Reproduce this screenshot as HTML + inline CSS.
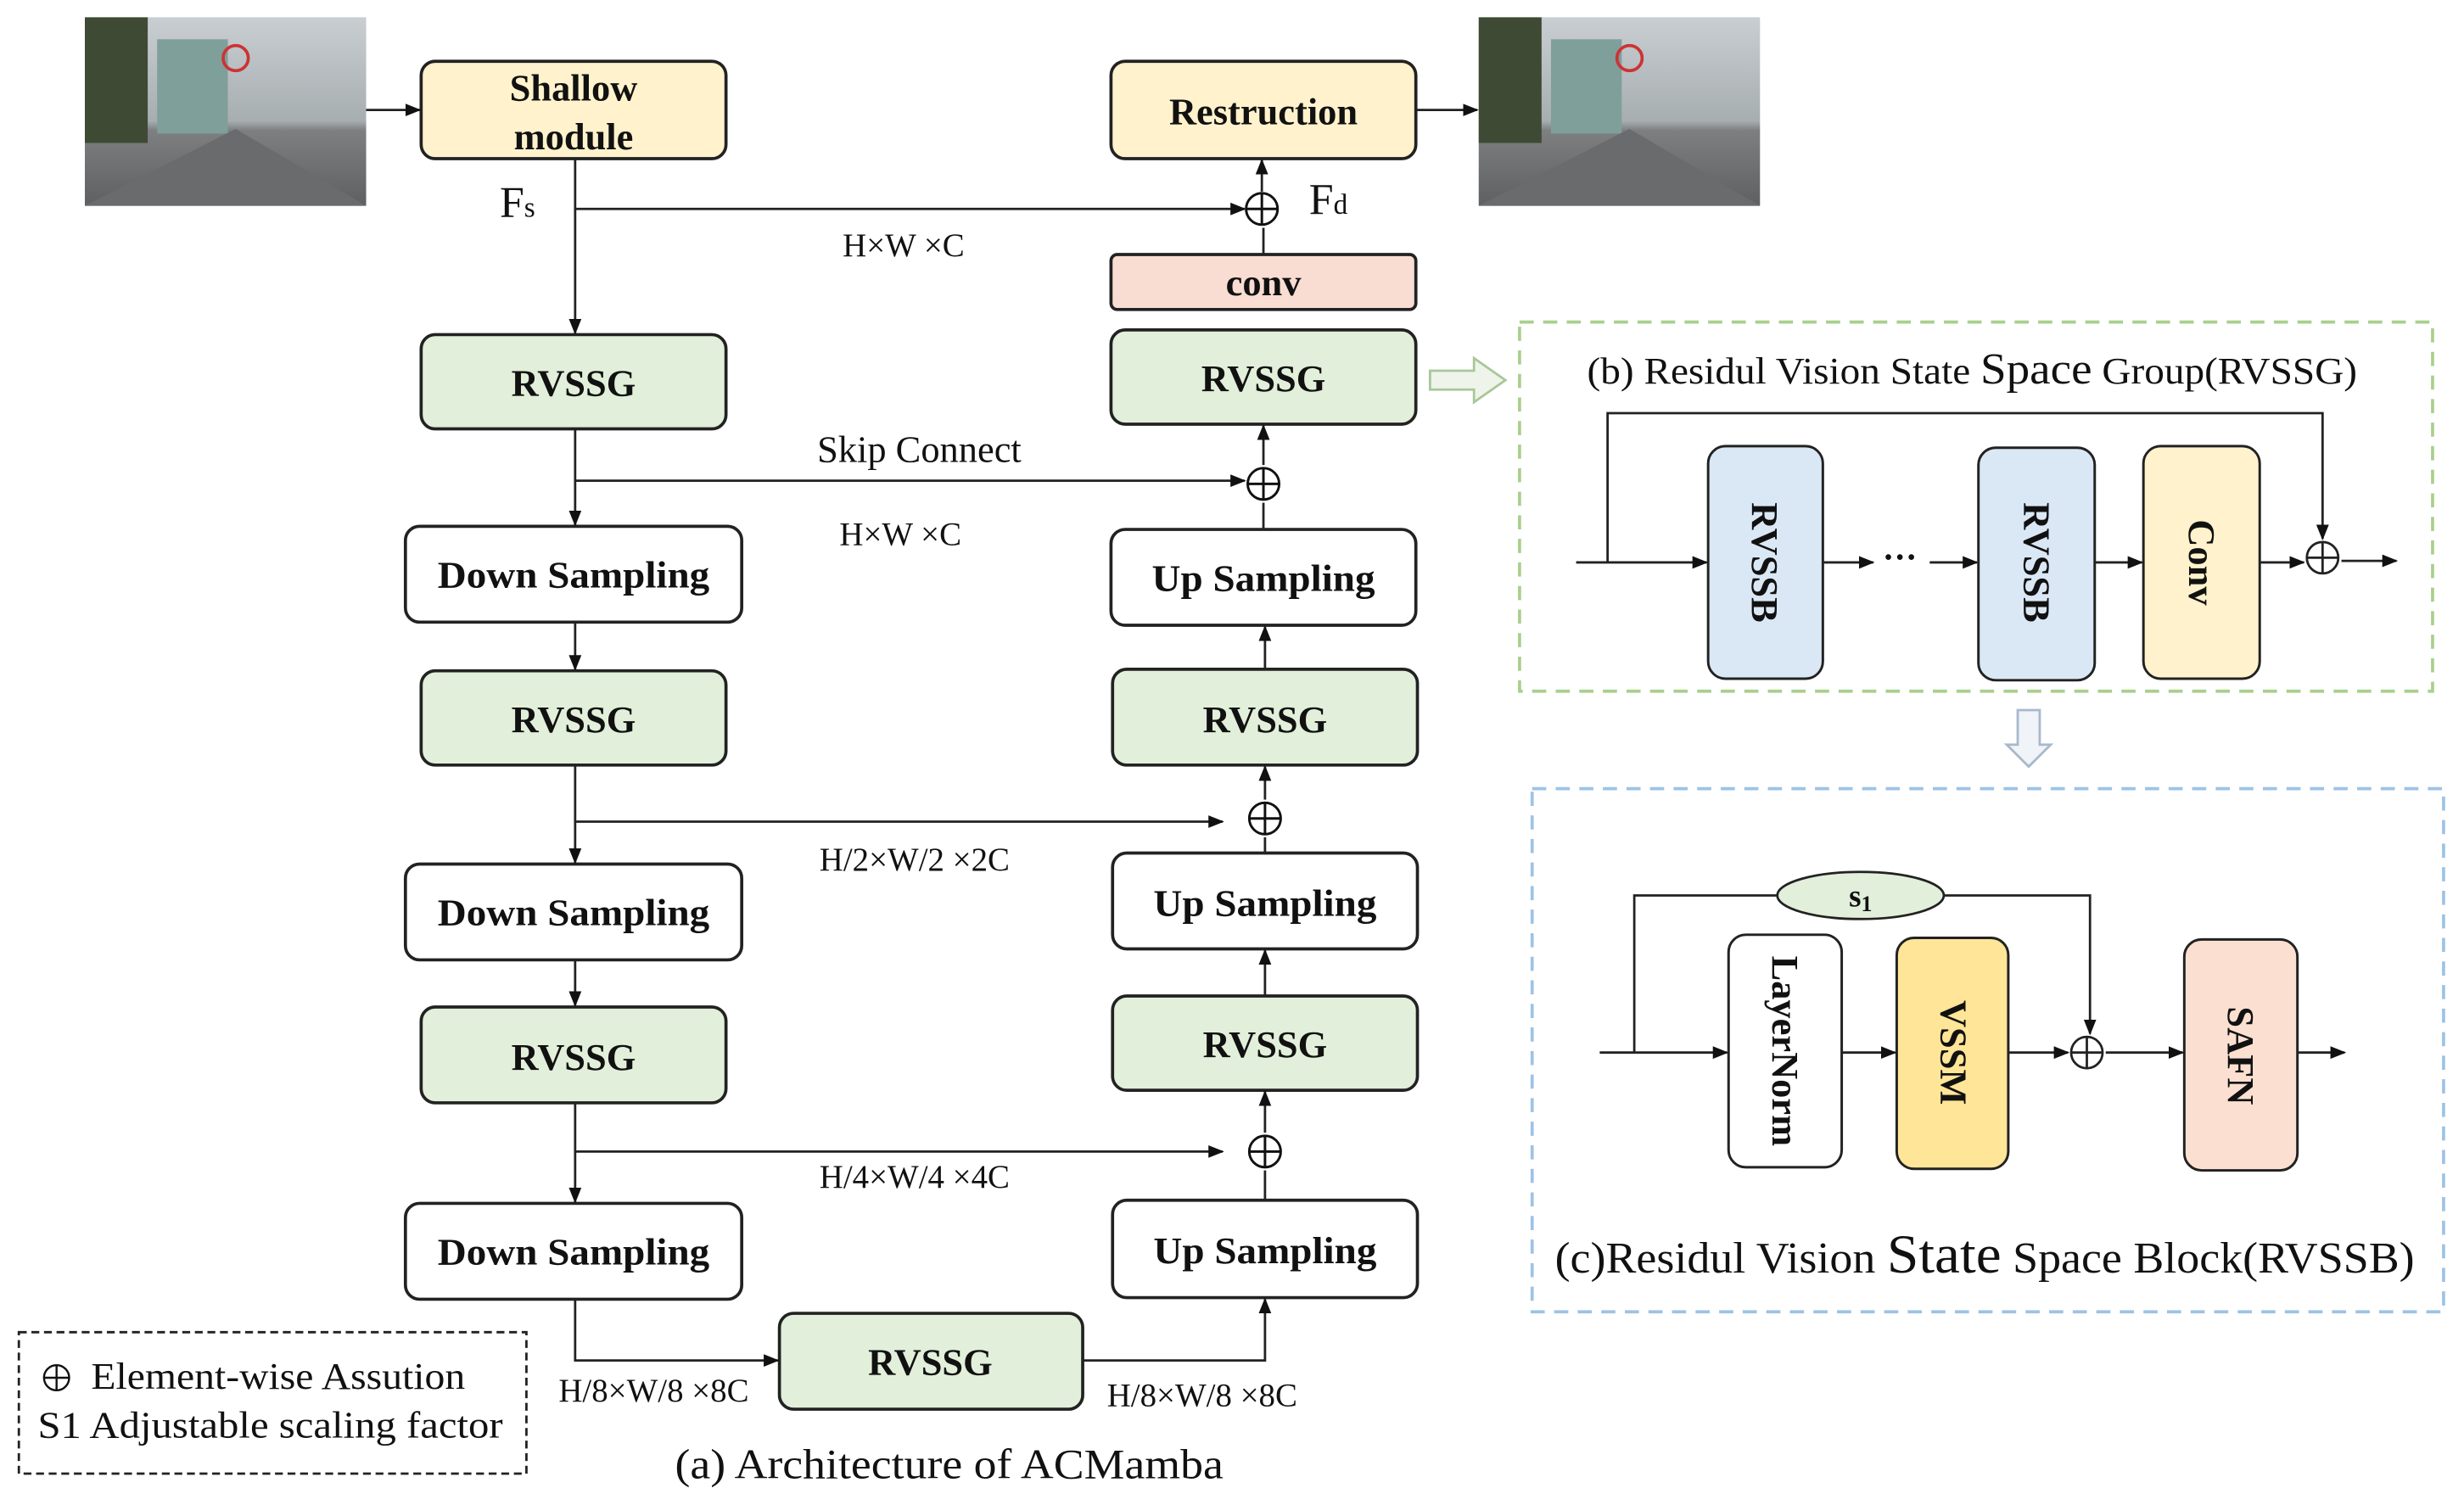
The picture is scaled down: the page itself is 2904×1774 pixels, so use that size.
<!DOCTYPE html>
<html><head><meta charset="utf-8"><style>
html,body{margin:0;padding:0;background:#fff;}
svg{display:block;}
text{font-family:"Liberation Serif",serif;fill:#111;}
.b{font-weight:bold;font-size:24px;}
</style></head><body>
<svg width="2904" height="1774" viewBox="0 0 1568 958" preserveAspectRatio="none" xmlns="http://www.w3.org/2000/svg">
<defs>
<marker id="a" markerWidth="10" markerHeight="10" refX="9" refY="5" orient="auto" markerUnits="userSpaceOnUse"><path d="M0,1 L10,5 L0,9 z" fill="#111"/></marker>
<linearGradient id="sky" x1="0" y1="0" x2="0" y2="1"><stop offset="0" stop-color="#c9ced2"/><stop offset="0.55" stop-color="#a7aeb0"/><stop offset="0.6" stop-color="#7d7f80"/><stop offset="1" stop-color="#5f6061"/></linearGradient>
</defs>
<rect width="1568" height="958" fill="#fff"/>
<g>
<rect x="54" y="11" width="179" height="120" fill="url(#sky)"/>
<rect x="54" y="11" width="40" height="80" fill="#3f4a35"/>
<rect x="100" y="25" width="45" height="60" fill="#7f9f9a"/>
<circle cx="150" cy="37" r="8" fill="none" stroke="#c33" stroke-width="2"/>
<path d="M54 131 L150 82 L233 131 Z" fill="#6a6b6c"/>
<rect x="941" y="11" width="179" height="120" fill="url(#sky)"/>
<rect x="941" y="11" width="40" height="80" fill="#3f4a35"/>
<rect x="987" y="25" width="45" height="60" fill="#7f9f9a"/>
<circle cx="1037" cy="37" r="8" fill="none" stroke="#c33" stroke-width="2"/>
<path d="M941 131 L1037 82 L1120 131 Z" fill="#6a6b6c"/>
</g>
<g stroke="#222" stroke-width="2">
<rect x="268" y="39" width="194" height="62" rx="9" fill="#fff2cc"/>
<rect x="707" y="39" width="194" height="62" rx="9" fill="#fff2cc"/>
<rect x="707" y="162" width="194" height="35" rx="4" fill="#f9ddd2"/>
<rect x="707" y="210" width="194" height="60" rx="9" fill="#e2efda"/>
<rect x="268" y="213" width="194" height="60" rx="9" fill="#e2efda"/>
<rect x="258" y="335" width="214" height="61" rx="9" fill="#fff"/>
<rect x="268" y="427" width="194" height="60" rx="9" fill="#e2efda"/>
<rect x="258" y="550" width="214" height="61" rx="9" fill="#fff"/>
<rect x="268" y="641" width="194" height="61" rx="9" fill="#e2efda"/>
<rect x="258" y="766" width="214" height="61" rx="9" fill="#fff"/>
<rect x="707" y="337" width="194" height="61" rx="9" fill="#fff"/>
<rect x="708" y="426" width="194" height="61" rx="9" fill="#e2efda"/>
<rect x="708" y="543" width="194" height="61" rx="9" fill="#fff"/>
<rect x="708" y="634" width="194" height="60" rx="9" fill="#e2efda"/>
<rect x="708" y="764" width="194" height="62" rx="9" fill="#fff"/>
<rect x="496" y="836" width="193" height="61" rx="9" fill="#e2efda"/>
</g>
<g stroke="#222" stroke-width="1.5" fill="none">
<line x1="233" y1="70" x2="267" y2="70" marker-end="url(#a)"/>
<line x1="901" y1="70" x2="940" y2="70" marker-end="url(#a)"/>
<line x1="366" y1="101" x2="366" y2="212" marker-end="url(#a)"/>
<line x1="366" y1="133" x2="792" y2="133" marker-end="url(#a)"/>
<line x1="803" y1="122" x2="803" y2="102" marker-end="url(#a)"/>
<line x1="804" y1="162" x2="804" y2="145"/>
<line x1="366" y1="273" x2="366" y2="334" marker-end="url(#a)"/>
<line x1="366" y1="306" x2="792" y2="306" marker-end="url(#a)"/>
<line x1="804" y1="337" x2="804" y2="320"/>
<line x1="804" y1="296" x2="804" y2="271" marker-end="url(#a)"/>
<line x1="366" y1="396" x2="366" y2="426" marker-end="url(#a)"/>
<line x1="366" y1="487" x2="366" y2="549" marker-end="url(#a)"/>
<line x1="366" y1="523" x2="778" y2="523" marker-end="url(#a)"/>
<line x1="805" y1="543" x2="805" y2="533"/>
<line x1="805" y1="509" x2="805" y2="488" marker-end="url(#a)"/>
<line x1="805" y1="426" x2="805" y2="399" marker-end="url(#a)"/>
<line x1="366" y1="611" x2="366" y2="640" marker-end="url(#a)"/>
<line x1="366" y1="702" x2="366" y2="765" marker-end="url(#a)"/>
<line x1="366" y1="733" x2="778" y2="733" marker-end="url(#a)"/>
<line x1="805" y1="764" x2="805" y2="745"/>
<line x1="805" y1="721" x2="805" y2="695" marker-end="url(#a)"/>
<line x1="805" y1="634" x2="805" y2="605" marker-end="url(#a)"/>
<polyline points="366,827 366,866 495,866" marker-end="url(#a)"/>
<polyline points="689,866 805,866 805,827" marker-end="url(#a)"/>
</g>
<g stroke="#111" stroke-width="1.6" fill="none">
<circle cx="803" cy="133" r="10"/><path d="M793 133h20M803 123v20"/>
<circle cx="804" cy="308" r="10"/><path d="M794 308h20M804 298v20"/>
<circle cx="805" cy="521" r="10"/><path d="M795 521h20M805 511v20"/>
<circle cx="805" cy="733" r="10"/><path d="M795 733h20M805 723v20"/>
</g>
<g text-anchor="middle">
<text class="b" x="365" y="64">Shallow</text>
<text class="b" x="365" y="95">module</text>
<text class="b" x="804" y="79">Restruction</text>
<text class="b" x="804" y="188">conv</text>
<text class="b" x="804" y="249">RVSSG</text>
<text class="b" x="365" y="252">RVSSG</text>
<text class="b" x="365" y="374" textLength="173" lengthAdjust="spacingAndGlyphs">Down Sampling</text>
<text class="b" x="365" y="466">RVSSG</text>
<text class="b" x="365" y="589" textLength="173" lengthAdjust="spacingAndGlyphs">Down Sampling</text>
<text class="b" x="365" y="681">RVSSG</text>
<text class="b" x="365" y="805" textLength="173" lengthAdjust="spacingAndGlyphs">Down Sampling</text>
<text class="b" x="804" y="376" textLength="142" lengthAdjust="spacingAndGlyphs">Up Sampling</text>
<text class="b" x="805" y="466">RVSSG</text>
<text class="b" x="805" y="583" textLength="142" lengthAdjust="spacingAndGlyphs">Up Sampling</text>
<text class="b" x="805" y="673">RVSSG</text>
<text class="b" x="805" y="804" textLength="142" lengthAdjust="spacingAndGlyphs">Up Sampling</text>
<text class="b" x="592" y="875">RVSSG</text>
</g>
<g font-size="21" text-anchor="middle">
<text x="575" y="163">H×W ×C</text>
<text x="585" y="294" font-size="24">Skip Connect</text>
<text x="573" y="347">H×W ×C</text>
<text x="582" y="554">H/2×W/2 ×2C</text>
<text x="582" y="756">H/4×W/4 ×4C</text>
<text x="416" y="892">H/8×W/8 ×8C</text>
<text x="765" y="895">H/8×W/8 ×8C</text>
<text x="604" y="941" font-size="27" textLength="349" lengthAdjust="spacingAndGlyphs">(a) Architecture of ACMamba</text>
</g>
<text x="318" y="138" font-size="28">F<tspan font-size="18">s</tspan></text>
<text x="833" y="136" font-size="28">F<tspan font-size="18">d</tspan></text>
<rect x="12" y="848" width="323" height="90" fill="none" stroke="#222" stroke-width="1.5" stroke-dasharray="5,3"/>
<g stroke="#111" stroke-width="1.3" fill="none"><circle cx="36" cy="877" r="8"/><path d="M28 877h16M36 869v16"/></g>
<text x="58" y="884" font-size="24" textLength="238" lengthAdjust="spacingAndGlyphs">Element-wise Assution</text>
<text x="24" y="915" font-size="24" textLength="296" lengthAdjust="spacingAndGlyphs">S1  Adjustable scaling factor</text>
<path d="M910 236 H938 V228 L958 242 L938 256 V248 H910 Z" fill="#eef4ea" stroke="#a9c79a" stroke-width="1.5"/>
<path d="M1284 452 V474 H1277 L1291 488 L1305 474 H1298 V452 Z" fill="#f0f3f7" stroke="#a8b8cc" stroke-width="1.5"/>
<rect x="967" y="205" width="581" height="235" fill="none" stroke="#a8d08d" stroke-width="2" stroke-dasharray="9,6"/>
<text x="1255" y="244" font-size="24" text-anchor="middle" textLength="490" lengthAdjust="spacingAndGlyphs">(b) Residul Vision State <tspan font-size="28">Space</tspan> Group(RVSSG)</text>
<g stroke="#222" stroke-width="1.6">
<rect x="1087" y="284" width="73" height="148" rx="11" fill="#dae8f5"/>
<rect x="1259" y="285" width="74" height="148" rx="11" fill="#dae8f5"/>
<rect x="1364" y="284" width="74" height="148" rx="11" fill="#fff2cc"/>
</g>
<g stroke="#222" stroke-width="1.5" fill="none">
<line x1="1003" y1="358" x2="1086" y2="358" marker-end="url(#a)"/>
<polyline points="1023,358 1023,263 1478,263 1478,343" marker-end="url(#a)"/>
<line x1="1160" y1="358" x2="1192" y2="358" marker-end="url(#a)"/>
<line x1="1228" y1="358" x2="1258" y2="358" marker-end="url(#a)"/>
<line x1="1333" y1="358" x2="1363" y2="358" marker-end="url(#a)"/>
<line x1="1438" y1="358" x2="1466" y2="358" marker-end="url(#a)"/>
<line x1="1490" y1="357" x2="1525" y2="357" marker-end="url(#a)"/>
<circle cx="1478" cy="355" r="10"/><path d="M1468 355h20M1478 345v20"/>
</g>
<text x="1198" y="362" font-size="22" font-weight="bold">···</text>
<g text-anchor="middle">
<text class="b" transform="translate(1123,358) rotate(90)" y="8">RVSSB</text>
<text class="b" transform="translate(1296,358) rotate(90)" y="8">RVSSB</text>
<text class="b" transform="translate(1401,358) rotate(90)" y="8">Conv</text>
</g>
<rect x="975" y="502" width="580" height="333" fill="none" stroke="#9dc3e6" stroke-width="2" stroke-dasharray="9,6"/>
<g stroke="#222" stroke-width="1.6">
<rect x="1100" y="595" width="72" height="148" rx="11" fill="#fff"/>
<rect x="1207" y="597" width="71" height="147" rx="11" fill="#ffe597"/>
<rect x="1390" y="598" width="72" height="147" rx="11" fill="#fbe0d2"/>
</g>
<g stroke="#222" stroke-width="1.5" fill="none">
<line x1="1018" y1="670" x2="1099" y2="670" marker-end="url(#a)"/>
<polyline points="1040,670 1040,570 1131,570"/>
<polyline points="1237,570 1330,570 1330,658" marker-end="url(#a)"/>
<line x1="1172" y1="670" x2="1206" y2="670" marker-end="url(#a)"/>
<line x1="1278" y1="670" x2="1316" y2="670" marker-end="url(#a)"/>
<line x1="1340" y1="670" x2="1389" y2="670" marker-end="url(#a)"/>
<line x1="1462" y1="670" x2="1492" y2="670" marker-end="url(#a)"/>
<circle cx="1328" cy="670" r="10"/><path d="M1318 670h20M1328 660v20"/>
</g>
<ellipse cx="1184" cy="570" rx="53" ry="15" fill="#e2efda" stroke="#222" stroke-width="1.5"/>
<text x="1184" y="577" font-size="20" text-anchor="middle" font-weight="bold">s<tspan font-size="14" dy="3">1</tspan></text>
<g text-anchor="middle">
<text class="b" transform="translate(1136,669) rotate(90)" y="8">LayerNorm</text>
<text class="b" transform="translate(1243,670) rotate(90)" y="8">VSSM</text>
<text class="b" transform="translate(1426,672) rotate(90)" y="8">SAFN</text>
</g>
<text x="1263" y="810" font-size="28" text-anchor="middle" textLength="547" lengthAdjust="spacingAndGlyphs">(c)Residul Vision <tspan font-size="35">State</tspan> Space Block(RVSSB)</text>
</svg>
</body></html>
